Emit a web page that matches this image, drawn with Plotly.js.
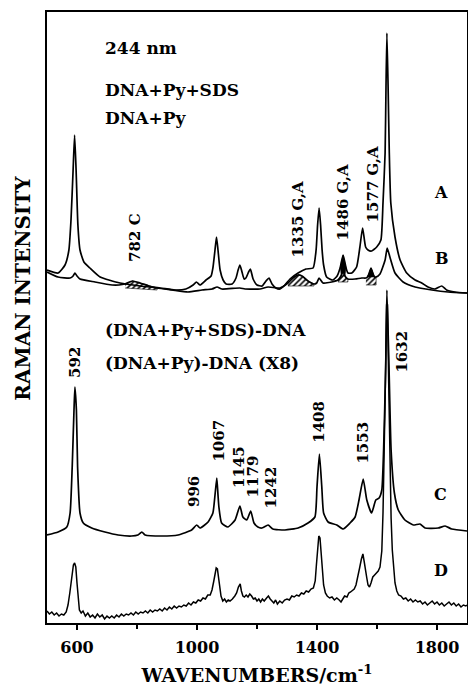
<!DOCTYPE html>
<html>
<head>
<meta charset="utf-8">
<script src="https://cdn.plot.ly/plotly-3.0.1.min.js"></script>
<style>html,body{margin:0;padding:0;background:#fff;}#chart{width:468px;height:690px;}</style>
</head>
<body>
<div id="chart"></div>
<script>
// ---- Spectrum A: DNA+Py+SDS ----
const wnA = [500,537,560,573,580,587,592,597,603,610,623,643,677,743,810,877,927,963,987,998,1010,1030,1047,1053,1060,1065,1070,1077,1087,1097,1117,1130,1137,1143,1150,1157,1163,1172,1178,1187,1200,1217,1230,1240,1250,1263,1277,1293,1310,1337,1363,1387,1397,1402,1407,1412,1417,1422,1432,1453,1467,1477,1487,1497,1503,1516,1532,1543,1552,1562,1570,1582,1599,1613,1620,1627,1630,1633,1637,1641,1646,1660,1677,1699,1727,1749,1770,1793,1816,1832,1860,1900];
const intA = [353,350,358,373,403,453,488,453,398,373,361,355,346,340,337,335,333,334,338,341,338,343,347,355,373,386,373,353,343,339,339,345,353,358,351,344,345,351,354,344,338,337,342,345,339,335,334,338,344,350,354,355,373,398,415,398,373,358,346,343,347,355,368,355,350,350,356,376,395,376,373,372,376,383,420,470,536,590,536,470,420,386,363,350,343,340,336,334,337,333,331,330];

// ---- Spectrum B: DNA+Py ----
const wnB = [500,537,577,587,593,600,610,660,717,740,760,785,810,840,867,917,970,1017,1050,1067,1083,1143,1160,1210,1237,1277,1303,1320,1337,1350,1370,1390,1399,1407,1420,1449,1470,1480,1487,1493,1503,1527,1549,1563,1568,1573,1580,1587,1592,1597,1610,1627,1634,1643,1660,1687,1727,1783,1837,1900];
const intB = [351,346,345,347,350,347,344,341,338,338,339,342,340,337,335,333,331,333,334,336,334,335,334,334,336,335,340,345,348,347,342,339,340,345,340,341,343,347,352,347,344,344,345,345,346,349,355,349,346,346,349,363,375,366,350,341,336,333,331,330];

// ---- Spectrum C: (DNA+Py+SDS)-DNA ----
const wnC = [500,537,566,577,584,590,593,598,602,610,621,649,693,737,782,803,816,827,882,937,982,999,1010,1037,1053,1060,1066,1070,1073,1082,1103,1127,1143,1153,1166,1179,1190,1203,1216,1237,1253,1293,1337,1370,1393,1400,1408,1416,1422,1437,1466,1487,1510,1527,1540,1554,1566,1582,1596,1607,1616,1622,1629,1633,1640,1647,1658,1671,1693,1721,1743,1760,1804,1827,1849,1900];
const intC = [88,91,96,110,156,213,236,213,156,110,100,95,91,88,87,88,91,88,87,88,93,98,95,101,110,128,145,128,116,100,96,103,117,106,103,112,100,96,95,98,94,93,95,100,106,136,169,136,110,101,98,94,100,106,123,144,123,110,123,125,133,173,256,333,256,173,130,113,103,98,99,95,95,97,94,92];

// ---- Spectrum D: (DNA+Py)-DNA (X8) ----
const wnD = [500,508,516,524,532,540,548,556,564,570,576,582,588,592,596,600,604,608,614,620,628,636,644,652,660,668,676,684,692,700,708,716,724,732,740,748,756,764,772,780,788,796,804,812,820,828,836,844,852,860,868,876,884,892,900,908,916,924,932,940,948,956,964,972,980,988,996,1004,1012,1020,1028,1036,1044,1050,1056,1060,1064,1068,1072,1076,1080,1086,1092,1098,1104,1110,1118,1126,1132,1138,1144,1148,1153,1158,1164,1170,1176,1182,1188,1194,1200,1206,1212,1218,1224,1232,1238,1244,1250,1256,1262,1268,1276,1284,1292,1300,1308,1316,1324,1332,1340,1348,1356,1364,1372,1380,1388,1394,1398,1402,1406,1410,1414,1418,1422,1428,1434,1442,1450,1458,1466,1474,1480,1486,1492,1500,1506,1512,1518,1524,1530,1536,1542,1548,1553,1557,1561,1566,1570,1575,1580,1586,1592,1598,1604,1610,1616,1620,1624,1628,1632,1635,1639,1643,1647,1651,1655,1660,1666,1672,1680,1688,1696,1704,1712,1720,1728,1736,1744,1752,1760,1768,1776,1784,1792,1800,1808,1816,1824,1832,1840,1848,1856,1864,1872,1880,1888,1896,1900];
const intD = [12,9,11,8,10,7,9,8,11,18,30,47,58,60,56,40,22,13,10,12,7,10,6,8,5,9,6,8,4,7,5,7,5,8,6,9,7,9,8,10,8,11,9,11,10,12,10,13,11,13,12,14,12,15,13,16,14,17,15,17,16,18,17,20,18,21,20,23,22,25,24,28,28,33,42,50,55,54,44,35,27,22,24,21,23,22,24,27,30,36,39,32,27,26,28,26,29,27,24,25,22,24,21,24,22,25,27,24,22,20,23,19,22,20,23,24,23,27,26,28,27,30,29,32,31,34,35,42,58,75,87,85,68,50,38,30,27,25,26,23,25,23,21,24,27,26,30,31,33,34,38,45,55,64,69,62,52,45,38,36,40,46,48,50,52,56,72,110,160,240,318,318,240,160,105,73,55,40,32,28,27,24,25,22,24,21,23,21,22,19,21,18,20,22,19,21,18,20,17,19,21,18,20,17,19,16,18,17,18];

// ---- Hatched regions under B (range and lower chord) ----
const hatchLo = [760, 1303, 1470, 1563];
const hatchHi = [867, 1390, 1503, 1597];
const hatchBaseLo = [335, 337, 341, 338];
const hatchBaseHi = [333, 337, 341, 338];
// Solid black region (1486: between A and B)
const blackA = [1477, 1497];
const blackB = [1480, 1493];
// Solid black peak of B at 1577 (range and chord)
const black2Lo = 1568, black2Hi = 1592, black2Base = 346;

// ---- Tick labels ----
const tickVals = [600, 1000, 1400, 1800];
const tickText = ['600', '1000', '1400', '1800'];

// ---- Text labels ----
const headTexts = ['244 nm', 'DNA+Py+SDS', 'DNA+Py', '(DNA+Py+SDS)-DNA', '(DNA+Py)-DNA (X8)'];
const headX = [687, 687, 687, 687, 687];
const headY = [575, 533, 505, 293, 260];
const bandTexts = ['782 C', '1335 G,A', '1486 G,A', '1577 G,A', '592', '996', '1067', '1145', '1179', '1242', '1408', '1553', '1632'];
const bandX = [793, 1338, 1488, 1588, 593, 990, 1072, 1140, 1188, 1248, 1406, 1552, 1682];
const bandY = [386, 404, 421, 439, 261, 131, 182, 156, 147, 136, 201, 180, 271];
const curveTexts = ['A', 'B', 'C', 'D'];
const curveX = [1813, 1817, 1813, 1813];
const curveY = [431, 365, 129, 53];

const FONT = 'DejaVu Serif';
const traces = [];

function pick(xs, ys, lo, hi) {
  const px = [], py = [];
  for (let i = 0; i < xs.length; i++) if (xs[i] >= lo && xs[i] <= hi) { px.push(xs[i]); py.push(ys[i]); }
  return [px, py];
}

// hatched areas
for (let k = 0; k < hatchLo.length; k++) {
  const [px, py] = pick(wnB, intB, hatchLo[k], hatchHi[k]);
  px.push(hatchHi[k], hatchLo[k]);
  py.push(hatchBaseHi[k], hatchBaseLo[k]);
  traces.push({x: px, y: py, mode: 'lines', fill: 'toself', line: {width: 0.6, color: 'black'},
    fillcolor: 'white', fillpattern: {shape: '/', fgcolor: 'black', bgcolor: 'white', size: 4, solidity: 0.4},
    hoverinfo: 'skip'});
}
// black area between A and B at 1486
{
  const [ax, ay] = pick(wnA, intA, blackA[0], blackA[1]);
  const [bx, by] = pick(wnB, intB, blackB[0], blackB[1]);
  traces.push({x: ax.concat(bx.slice().reverse()), y: ay.concat(by.slice().reverse()), mode: 'lines',
    fill: 'toself', fillcolor: 'black', line: {width: 0.5, color: 'black'}, hoverinfo: 'skip'});
}
// black peak of B at 1577
{
  const [bx, by] = pick(wnB, intB, black2Lo, black2Hi);
  bx.push(black2Hi, black2Lo); by.push(black2Base, black2Base);
  traces.push({x: bx, y: by, mode: 'lines', fill: 'toself', fillcolor: 'black',
    line: {width: 0.5, color: 'black'}, hoverinfo: 'skip'});
}

const lineStyle = {color: 'black', width: 1.7, shape: 'spline', smoothing: 0.5};
traces.push({x: wnB, y: intB, mode: 'lines', line: lineStyle, name: 'DNA+Py'});
traces.push({x: wnA, y: intA, mode: 'lines', line: lineStyle, name: 'DNA+Py+SDS'});
traces.push({x: wnC, y: intC, mode: 'lines', line: lineStyle, name: '(DNA+Py+SDS)-DNA'});
traces.push({x: wnD, y: intD, mode: 'lines', line: {color: 'black', width: 1.5}, name: '(DNA+Py)-DNA (X8)'});

const ann = [];
headTexts.forEach((t, i) => ann.push({x: headX[i], y: headY[i], text: t, showarrow: false, xanchor: 'left', yanchor: 'middle',
  font: {family: FONT, size: 17, weight: 'bold', color: 'black'}}));
bandTexts.forEach((t, i) => ann.push({x: bandX[i], y: bandY[i], text: t, showarrow: false, textangle: -90,
  xanchor: 'center', yanchor: 'middle', font: {family: FONT, size: 15, weight: 'bold', color: 'black'}}));
curveTexts.forEach((t, i) => ann.push({x: curveX[i], y: curveY[i], text: t, showarrow: false,
  xanchor: 'center', yanchor: 'middle', font: {family: FONT, size: 16, weight: 'bold', color: 'black'}}));
ann.push({xref: 'paper', yref: 'y', x: -0.058, y: 335, text: 'RAMAN INTENSITY', showarrow: false, textangle: -90,
  xanchor: 'center', yanchor: 'middle', font: {family: FONT, size: 20, weight: 'bold', color: 'black'}});

const layout = {
  width: 468, height: 690,
  margin: {l: 47, r: 1, t: 12, b: 67},
  paper_bgcolor: 'white', plot_bgcolor: 'white',
  showlegend: false,
  font: {family: FONT, size: 16, weight: 'bold', color: 'black'},
  xaxis: {
    range: [500, 1900], tickmode: 'array', tickvals: tickVals, ticktext: tickText,
    ticks: 'outside', ticklen: 5, tickwidth: 1.5, tickcolor: 'black',
    minor: {tickmode: 'linear', tick0: 600, dtick: 200, ticks: 'outside', ticklen: 4, tickwidth: 1.5, tickcolor: 'black', showgrid: false},
    ticklabelstandoff: 4,
    showline: true, linewidth: 2, linecolor: 'black', mirror: true,
    showgrid: false, zeroline: false,
    tickfont: {family: FONT, size: 16, weight: 'bold', color: 'black'},
    title: {text: 'WAVENUMBERS/cm<sup>-1</sup>', standoff: 12,
      font: {family: FONT, size: 19, weight: 'bold', color: 'black'}}
  },
  yaxis: {
    range: [0, 611], showticklabels: false, ticks: '',
    showline: true, linewidth: 2, linecolor: 'black', mirror: true,
    showgrid: false, zeroline: false
  },
  annotations: ann
};

Plotly.newPlot('chart', traces, layout, {staticPlot: true, displayModeBar: false});
</script>
</body>
</html>
